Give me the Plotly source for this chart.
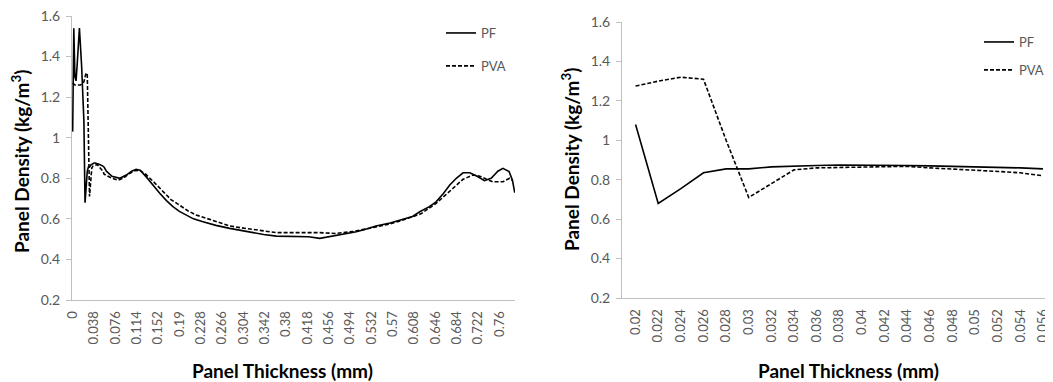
import plotly.graph_objects as go

# ---------------- Left chart data (full panel profile) ----------------
left_x = [0.0, 0.002, 0.004, 0.006, 0.008, 0.012, 0.016, 0.018, 0.02, 0.022, 0.024, 0.026,
          0.028, 0.03, 0.032, 0.034, 0.036, 0.038, 0.04, 0.042, 0.044, 0.046, 0.048, 0.05,
          0.052, 0.054, 0.056, 0.06, 0.07, 0.084, 0.0955, 0.105, 0.113, 0.12, 0.131, 0.143,
          0.155, 0.167, 0.1785, 0.19, 0.2024, 0.215, 0.232, 0.255, 0.2795, 0.3, 0.321, 0.34,
          0.3626, 0.38, 0.398, 0.42, 0.44, 0.455, 0.469, 0.49, 0.505, 0.52, 0.54, 0.565,
          0.588, 0.605, 0.618, 0.635, 0.647, 0.66, 0.671, 0.683, 0.695, 0.707, 0.72, 0.733,
          0.745, 0.757, 0.766, 0.777, 0.783, 0.787]
left_pf = [1.03, 1.54, 1.30, 1.28, 1.36, 1.54, 1.35, 1.22, 1.08, 0.68, 0.755, 0.835,
           0.855, 0.855, 0.865, 0.87, 0.872, 0.875, 0.875, 0.875, 0.872, 0.87, 0.868, 0.865,
           0.862, 0.86, 0.855, 0.835, 0.81, 0.80, 0.816, 0.835, 0.844, 0.84, 0.807, 0.765,
           0.726, 0.69, 0.66, 0.637, 0.619, 0.60, 0.586, 0.568, 0.553, 0.542, 0.532, 0.523,
           0.515, 0.514, 0.516, 0.512, 0.504, 0.512, 0.52, 0.528, 0.536, 0.548, 0.565, 0.58,
           0.598, 0.612, 0.635, 0.66, 0.684, 0.725, 0.766, 0.80, 0.827, 0.827, 0.81, 0.788,
           0.80, 0.835, 0.849, 0.833, 0.79, 0.729]

left_x_pva = [0.0, 0.004, 0.01, 0.014, 0.018, 0.02, 0.022, 0.024, 0.026, 0.028, 0.03, 0.032,
              0.034, 0.036, 0.038, 0.04, 0.042, 0.044, 0.046, 0.048, 0.05, 0.052, 0.054, 0.056,
              0.06, 0.07, 0.0807, 0.09, 0.1, 0.11, 0.119, 0.13, 0.145, 0.161, 0.175, 0.19,
              0.205, 0.22, 0.25, 0.2795, 0.3, 0.321, 0.34, 0.3626, 0.4, 0.44, 0.469, 0.5,
              0.54, 0.565, 0.588, 0.62, 0.647, 0.665, 0.68, 0.695, 0.7126, 0.725, 0.737,
              0.748, 0.766, 0.778, 0.783]
left_pva = [1.27, 1.26, 1.26, 1.26, 1.27, 1.275, 1.30, 1.32, 1.31, 1.0, 0.71, 0.78,
            0.85, 0.86, 0.862, 0.865, 0.868, 0.868, 0.86, 0.855, 0.848, 0.842, 0.835, 0.82,
            0.815, 0.80, 0.791, 0.80, 0.822, 0.837, 0.84, 0.82, 0.78, 0.734, 0.695, 0.668,
            0.64, 0.619, 0.59, 0.565, 0.556, 0.548, 0.54, 0.532, 0.532, 0.532, 0.528, 0.538,
            0.56, 0.575, 0.594, 0.625, 0.676, 0.72, 0.758, 0.795, 0.816, 0.81, 0.795,
            0.783, 0.783, 0.80, 0.79]

left_tickvals = [0, 0.038, 0.076, 0.114, 0.152, 0.19, 0.228, 0.266, 0.304, 0.342, 0.38,
                 0.418, 0.456, 0.494, 0.532, 0.57, 0.608, 0.646, 0.684, 0.722, 0.76]
left_ticktext = ["0", "0.038", "0.076", "0.114", "0.152", "0.19", "0.228", "0.266", "0.304",
                 "0.342", "0.38", "0.418", "0.456", "0.494", "0.532", "0.57", "0.608",
                 "0.646", "0.684", "0.722", "0.76"]

# ---------------- Right chart data (surface zoom) ----------------
right_x = [0.02, 0.022, 0.024, 0.026, 0.028, 0.03, 0.032, 0.034, 0.036, 0.038, 0.04,
           0.042, 0.044, 0.046, 0.048, 0.05, 0.052, 0.054, 0.056]
right_pf = [1.08, 0.68, 0.755, 0.835, 0.855, 0.855, 0.865, 0.87, 0.872, 0.875, 0.875,
            0.875, 0.872, 0.87, 0.868, 0.865, 0.862, 0.86, 0.855]
right_pva = [1.275, 1.30, 1.32, 1.31, 1.0, 0.71, 0.78, 0.85, 0.86, 0.862, 0.865,
             0.868, 0.868, 0.86, 0.855, 0.848, 0.842, 0.835, 0.82]
right_ticktext = ["0.02", "0.022", "0.024", "0.026", "0.028", "0.03", "0.032", "0.034",
                  "0.036", "0.038", "0.04", "0.042", "0.044", "0.046", "0.048", "0.05",
                  "0.052", "0.054", "0.056"]

y_ticks = [0.2, 0.4, 0.6, 0.8, 1.0, 1.2, 1.4, 1.6]
y_ticktext = ["0.2", "0.4", "0.6", "0.8", "1", "1.2", "1.4", "1.6"]

FONT = "Lato"
TICK_COLOR = "#595959"
AXIS_COLOR = "#bfbfbf"
DASH = "4px,2px"
LW = 1.6

# the page body has an 8px margin: figure is placed at (8, 8) in the window
OFF = 8
W, H = 1053 - OFF, 382 - OFF

def px(v):
    return (v - OFF) / W

def py(v):
    return 1 - (v - OFF) / H

fig = go.Figure()
fig.add_trace(go.Scatter(x=left_x, y=left_pf, mode="lines", name="PF",
                         line=dict(color="black", width=LW), xaxis="x", yaxis="y",
                         legend="legend", legendgroup="a"))
fig.add_trace(go.Scatter(x=left_x_pva, y=left_pva, mode="lines", name="PVA",
                         line=dict(color="black", width=LW, dash=DASH), xaxis="x", yaxis="y",
                         legend="legend", legendgroup="b"))
fig.add_trace(go.Scatter(x=right_x, y=right_pf, mode="lines", name="PF",
                         line=dict(color="black", width=LW), xaxis="x2", yaxis="y2",
                         legend="legend2", legendgroup="c"))
fig.add_trace(go.Scatter(x=right_x, y=right_pva, mode="lines", name="PVA",
                         line=dict(color="black", width=LW, dash=DASH), xaxis="x2", yaxis="y2",
                         legend="legend2", legendgroup="d"))


def xax(domain, rng, tv, tt):
    return dict(domain=domain, range=rng, tickvals=tv, ticktext=tt, tickangle=-90,
                showline=True, linecolor=AXIS_COLOR, linewidth=1, showgrid=False,
                zeroline=False, ticks="", ticklabelstandoff=5, ticklabeloverflow="allow",
                tickfont=dict(family=FONT, size=13, color=TICK_COLOR))


def yax(domain, anchor):
    return dict(domain=domain, range=[0.2, 1.6], tickvals=y_ticks, ticktext=y_ticktext,
                showline=True, linecolor=AXIS_COLOR, linewidth=1, showgrid=False,
                zeroline=False, ticks="outside", ticklen=5, tickcolor=AXIS_COLOR,
                ticklabelstandoff=3, ticklabeloverflow="allow",
                anchor=anchor, tickfont=dict(family=FONT, size=14, color=TICK_COLOR))


fig.update_layout(
    width=W, height=H, margin=dict(l=0, r=0, t=0, b=0, autoexpand=False),
    paper_bgcolor="white", plot_bgcolor="white",
    xaxis=dict(**xax([px(72), px(515)], [-0.0012, 0.7875], left_tickvals, left_ticktext), anchor="y"),
    yaxis=yax([py(300), py(16)], "x"),
    xaxis2=dict(**xax([px(622), min(px(1052), 1.0)], [0.0188, 0.0568], right_x, right_ticktext),
                anchor="y2"),
    yaxis2=yax([py(298), py(22)], "x2"),
    legend=dict(x=px(441), y=py(18), xanchor="left", yanchor="top",
                bgcolor="rgba(0,0,0,0)", tracegroupgap=13,
                font=dict(family=FONT, size=13, color=TICK_COLOR)),
    legend2=dict(x=px(979), y=py(27), xanchor="left", yanchor="top",
                 bgcolor="rgba(0,0,0,0)", tracegroupgap=8,
                 font=dict(family=FONT, size=13, color=TICK_COLOR)),
    showlegend=True,
)

title_font = dict(family=FONT, size=19, color="black")
annos = [
    dict(text="Panel Density (kg/m<sup>3</sup>)", x=20, y=162, textangle=-90),
    dict(text="Panel Density (kg/m<sup>3</sup>)", x=570, y=160, textangle=-90),
    dict(text="Panel Thickness (mm)", x=282, y=370, textangle=0),
    dict(text="Panel Thickness (mm)", x=848, y=370, textangle=0),
]
for a in annos:
    fig.add_annotation(text="<b>" + a["text"] + "</b>", x=px(a["x"]), y=py(a["y"]),
                       xref="paper", yref="paper", showarrow=False, textangle=a["textangle"],
                       xanchor="center", yanchor="middle", font=title_font)

fig.write_html("out.html")
